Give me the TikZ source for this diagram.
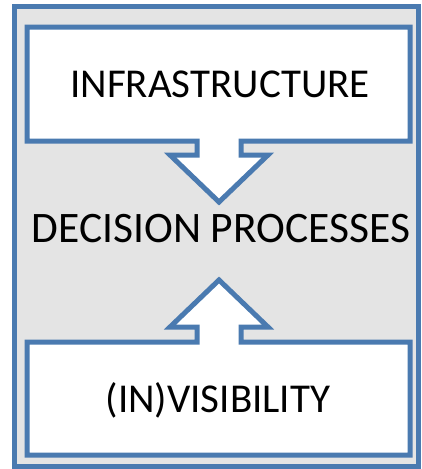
\documentclass[tikz,border=0pt]{standalone}
\usepackage{fontspec}
\setmainfont{Carlito}
\definecolor{frameblue}{HTML}{4A7AB0}
\definecolor{panelgray}{HTML}{E4E4E4}
\begin{document}
\begin{tikzpicture}[x=1pt,y=-1pt,
  outerframe/.style={draw=frameblue,line width=5pt,fill=panelgray},
  arrowbox/.style={draw=frameblue,line width=5pt,fill=white,line join=miter},
  label/.style={font=\fontsize{41}{41}\selectfont,text=black,inner sep=0pt}]
\useasboundingbox (0,0) rectangle (421,469);
% surrounding panel
\draw[outerframe] (14,6.5) rectangle (418.5,466.5);
% upper box with its arrow pointing down
\draw[arrowbox] (27,27) -- (410,27) -- (410,141) -- (241,141) -- (241,155)
  -- (268,155) -- (219,202) -- (170,155) -- (197,155) -- (197,141)
  -- (27,141) -- cycle;
% lower box with its arrow pointing up
\draw[arrowbox] (27,342) -- (197,342) -- (197,327) -- (170,327) -- (219,280)
  -- (268,327) -- (241,327) -- (241,342) -- (410,342) -- (410,455)
  -- (27,455) -- cycle;
\node[label] (infra) at (220,84) {INFRASTRUCTURE};
\node[label,font=\fontsize{43.5}{43.5}\selectfont] (decision) at (221,229) {DECISION PROCESSES};
\node[label] (vis) at (218,400) {(IN)VISIBILITY};
\end{tikzpicture}
\end{document}
